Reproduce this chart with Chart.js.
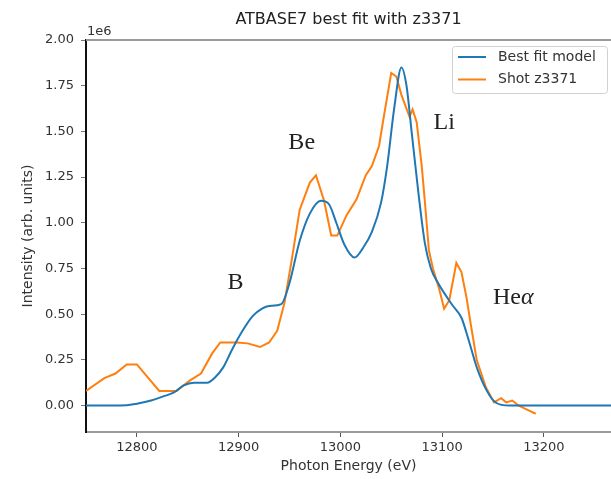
<!DOCTYPE html>
<html><head><meta charset="utf-8">
<script src="https://cdn.jsdelivr.net/npm/chart.js@4/dist/chart.umd.min.js"></script>
<style>html,body{margin:0;padding:0;background:#fff;overflow:hidden;}</style>
</head><body>
<canvas id="c" width="611" height="479" style="display:block;width:611px;height:479px"></canvas>
<script>
const chartTitle = 'ATBASE7 best fit with z3371';
const xLabel = 'Photon Energy (eV)';
const yLabel = 'Intensity (arb. units)';
const yExponentLabel = '1e6';
const seriesNames = ['Best fit model', 'Shot z3371'];

// Best fit model (intensity in units of 1e6)
const modelEnergy = [12750, 12790, 12800, 12814, 12826, 12836, 12846, 12856, 12869, 12877, 12885, 12893, 12904, 12914, 12923, 12930, 12942, 12950, 12960, 12970, 12981, 12989, 12996, 13004, 13014, 13022, 13031, 13040, 13046, 13053, 13060, 13065, 13070, 13077, 13083, 13089, 13096, 13110, 13119, 13126, 13134, 13144, 13153, 13166, 13266];
const modelIntensity = [0, 0.002, 0.01, 0.027, 0.05, 0.07, 0.11, 0.125, 0.125, 0.155, 0.21, 0.30, 0.41, 0.49, 0.53, 0.545, 0.555, 0.67, 0.90, 1.05, 1.12, 1.10, 1.00, 0.88, 0.81, 0.86, 0.95, 1.11, 1.31, 1.63, 1.85, 1.75, 1.50, 1.15, 0.89, 0.75, 0.67, 0.55, 0.48, 0.36, 0.21, 0.08, 0.015, 0, 0];

// Shot z3371 (intensity in units of 1e6)
const shotEnergy = [12750, 12768, 12779, 12790, 12800, 12822, 12839, 12853, 12863, 12874, 12882, 12898, 12909, 12921, 12930, 12938, 12945, 12952, 12960, 12970, 12976, 12984, 12991, 12997, 13006, 13016, 13025, 13031, 13038, 13043, 13050, 13055, 13060, 13068, 13071, 13075, 13080, 13083, 13087, 13091, 13097, 13102, 13107, 13114, 13119, 13124, 13128, 13134, 13143, 13151, 13158, 13163, 13169, 13175, 13185, 13192];
const shotIntensity = [0.08, 0.15, 0.175, 0.225, 0.225, 0.08, 0.08, 0.14, 0.175, 0.285, 0.345, 0.345, 0.34, 0.32, 0.345, 0.41, 0.56, 0.79, 1.07, 1.22, 1.26, 1.12, 0.93, 0.93, 1.04, 1.13, 1.26, 1.31, 1.42, 1.59, 1.82, 1.80, 1.70, 1.58, 1.62, 1.55, 1.31, 1.12, 0.85, 0.75, 0.64, 0.53, 0.575, 0.78, 0.73, 0.59, 0.45, 0.25, 0.10, 0.017, 0.04, 0.017, 0.027, 0.0, -0.027, -0.045];

const xTicks = [12800, 12900, 13000, 13100, 13200];
const yTicks = [0, 0.25, 0.5, 0.75, 1.0, 1.25, 1.5, 1.75, 2.0];
const xRange = [12750, 13266];
const yRange = [-0.145, 2.0];

// Peak annotations (text, energy, intensity)
const peakNames = ['B', 'Be', 'Li', 'He'];
const peakSuffix = ['', '', '', 'α'];
const peakEnergy = [12897, 12962, 13102, 13170];
const peakIntensity = [0.67, 1.44, 1.55, 0.59];

const BLUE = '#1f77b4', ORANGE = '#ff7f0e';
const SANS = '"DejaVu Sans", sans-serif';

const framePlugin = {
  id: 'frame',
  afterDatasetsDraw(chart) {
    const ctx = chart.ctx, a = chart.chartArea;
    const xs = chart.scales.x, ys = chart.scales.y;
    ctx.save();
    // top spine
    ctx.strokeStyle = '#9a9a9a'; ctx.lineWidth = 2;
    ctx.beginPath(); ctx.moveTo(a.left, a.top); ctx.lineTo(a.right, a.top); ctx.stroke();
    // annotations
    ctx.fillStyle = '#222';
    ctx.textBaseline = 'middle';
    const f = '24px "Liberation Serif", "DejaVu Serif", serif';
    const fi = 'italic 24px "Liberation Serif", "DejaVu Serif", serif';
    peakNames.forEach((t, i) => {
      const px = xs.getPixelForValue(peakEnergy[i]);
      const py = ys.getPixelForValue(peakIntensity[i]);
      ctx.font = f;
      const w1 = ctx.measureText(t).width;
      ctx.font = fi;
      const w2 = peakSuffix[i] ? ctx.measureText(peakSuffix[i]).width : 0;
      const x0 = px - (w1 + w2) / 2;
      ctx.font = f; ctx.textAlign = 'left';
      ctx.fillText(t, x0, py);
      if (peakSuffix[i]) { ctx.font = fi; ctx.fillText(peakSuffix[i], x0 + w1, py); }
    });
    // exponent label
    ctx.font = '13px ' + SANS; ctx.fillStyle = '#333'; ctx.textAlign = 'left'; ctx.textBaseline = 'alphabetic';
    ctx.fillText(yExponentLabel, a.left + 1, a.top - 5);
    // legend
    const lx = a.right - 159, ly = a.top + 6, lw = 155, lh = 47;
    ctx.fillStyle = 'rgba(255,255,255,0.85)'; ctx.strokeStyle = '#d0d0d0'; ctx.lineWidth = 1;
    ctx.beginPath();
    if (ctx.roundRect) ctx.roundRect(lx + 0.5, ly + 0.5, lw, lh, 3); else ctx.rect(lx + 0.5, ly + 0.5, lw, lh);
    ctx.fill(); ctx.stroke();
    chart.data.datasets.forEach((ds, i) => {
      const yy = ly + 11 + i * 22.5;
      ctx.strokeStyle = ds.borderColor; ctx.lineWidth = 2;
      ctx.beginPath(); ctx.moveTo(lx + 6, yy); ctx.lineTo(lx + 34, yy); ctx.stroke();
      ctx.fillStyle = '#333'; ctx.font = '14px ' + SANS; ctx.textBaseline = 'middle'; ctx.textAlign = 'left';
      ctx.fillText(ds.label, lx + 46, yy);
    });
    ctx.restore();
  }
};

new Chart(document.getElementById('c'), {
  type: 'line',
  data: {
    datasets: [
      { label: seriesNames[0], data: modelEnergy.map((e, i) => ({x: e, y: modelIntensity[i]})),
        borderColor: BLUE, backgroundColor: BLUE, borderWidth: 2, pointRadius: 0,
        cubicInterpolationMode: 'monotone', fill: false },
      { label: seriesNames[1], data: shotEnergy.map((e, i) => ({x: e, y: shotIntensity[i]})),
        borderColor: ORANGE, backgroundColor: ORANGE, borderWidth: 2, pointRadius: 0,
        tension: 0, fill: false }
    ]
  },
  options: {
    responsive: false, animation: false, devicePixelRatio: 1,
    layout: { padding: 0 },
    plugins: {
      legend: { display: false },
      tooltip: { enabled: false },
      title: { display: true, text: chartTitle, color: '#222', fullSize: false,
        font: { family: SANS, size: 16, weight: 'normal' }, padding: { top: 10, bottom: 10.8 } }
    },
    scales: {
      x: {
        type: 'linear', min: xRange[0], max: xRange[1],
        afterFit(s) { s.height = 47; },
        afterBuildTicks(s) { s.ticks = xTicks.map(v => ({value: v})); },
        grid: { display: true, drawOnChartArea: false, drawTicks: true, tickLength: 5, color: '#555' },
        border: { display: true, color: '#9a9a9a', width: 2 },
        ticks: { color: '#333', font: { family: SANS, size: 13 }, padding: 3, maxRotation: 0,
          callback: v => String(v) },
        title: { display: true, text: xLabel, color: '#333', font: { family: SANS, size: 14 }, padding: { top: 0, bottom: 4 } }
      },
      y: {
        type: 'linear', min: yRange[0], max: yRange[1],
        afterFit(s) { s.width = 86; },
        afterBuildTicks(s) { s.ticks = yTicks.map(v => ({value: v})); },
        grid: { display: true, drawOnChartArea: false, drawTicks: true, tickLength: 5, color: '#777' },
        border: { display: true, color: '#111', width: 2 },
        ticks: { color: '#333', font: { family: SANS, size: 13 }, padding: 7,
          callback: v => Number(v).toFixed(2) },
        title: { display: true, text: yLabel, color: '#333', font: { family: SANS, size: 14 }, padding: { top: 20, bottom: 0 } }
      }
    }
  },
  plugins: [framePlugin]
});
</script>
</body></html>
